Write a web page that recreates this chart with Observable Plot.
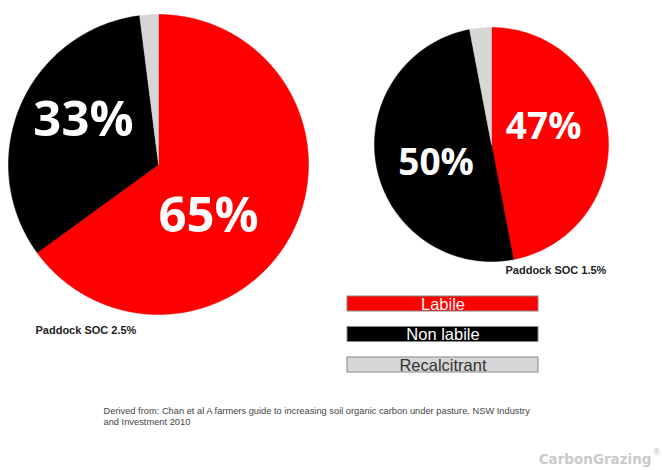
<!DOCTYPE html>
<html>
<head>
<meta charset="utf-8">
<script src="https://cdn.jsdelivr.net/npm/d3@7"></script>
<script src="https://cdn.jsdelivr.net/npm/@observablehq/plot@0.6"></script>
<style>
  html, body { margin: 0; padding: 0; background: #fff; }
  #chart svg { display: block; }
</style>
</head>
<body>
<div id="chart"></div>
<script>
// ---- data ----
const categories = ["Labile", "Non labile", "Recalcitrant"];
const soc25 = [65, 33, 2];   // Paddock SOC 2.5%
const soc15 = [47, 50, 3];   // Paddock SOC 1.5%
const pieTitles = ["Paddock SOC 2.5%", "Paddock SOC 1.5%"];
const captionLines = [
  "Derived from: Chan et al A farmers guide to increasing soil organic carbon under pasture. NSW Industry",
  "and Investment 2010"
];
const brand = "CarbonGrazing";

// ---- layout / style ----
const W = 662, H = 470;
const colors = ["#ff0000", "#000000", "#d6d6d6"];
const legendText = ["#fff4f4", "#ffffff", "#333333"];
const pies = [
  {values: soc25, cx: 158, cy: 164, r: 150, font: 49, title: pieTitles[0], tx: 35, ty: 330,
   lab: [[19, 0.48], [7, 0.58], null]},
  {values: soc15, cx: 491, cy: 144, r: 117, font: 37, title: pieTitles[1], tx: 505, ty: 270,
   lab: [[-13, 0.47], [-8, 0.5], null]}
];

const pie = d3.pie().sort(null).value(d => d);
const polys = [], labels = [], titles = [];
pies.forEach((p, pi) => {
  pie(p.values).forEach((a, i) => {
    const key = pi + "-" + i;
    const steps = Math.max(2, Math.ceil((a.endAngle - a.startAngle) / 0.01));
    polys.push({k: key, c: i, x: p.cx, y: p.cy});
    for (let s = 0; s <= steps; s++) {
      const t = a.startAngle + (a.endAngle - a.startAngle) * s / steps;
      polys.push({k: key, c: i, x: p.cx + p.r * Math.sin(t), y: p.cy - p.r * Math.cos(t)});
    }
    polys.push({k: key, c: i, x: p.cx, y: p.cy});
    if (p.lab[i]) {
      const mid = (a.startAngle + a.endAngle) / 2 + p.lab[i][0] * Math.PI / 180;
      const rr = p.r * p.lab[i][1];
      labels.push({x: p.cx + rr * Math.sin(mid), y: p.cy - rr * Math.cos(mid), t: a.data + "%", f: p.font});
    }
  });
  titles.push({x: p.tx, y: p.ty, t: p.title});
});

const legend = categories.map((c, i) => ({c, i, x1: 347, x2: 538, y1: 296 + i * 30.5, y2: 311 + i * 30.5}));

const chart = Plot.plot({
  width: W, height: H,
  margin: 0,
  x: {domain: [0, W], range: [0, W], axis: null},
  y: {domain: [0, H], range: [0, H], axis: null},
  style: {background: "#fff", overflow: "visible"},
  marks: [
    Plot.line(polys, {x: "x", y: "y", z: "k", fill: d => colors[d.c], stroke: d => colors[d.c], strokeWidth: 0.5, curve: "linear"}),
    ...labels.map(l => Plot.text([l], {x: "x", y: "y", text: "t", fill: "#fff", fontSize: l.f, fontWeight: 700,
      fontFamily: "'Open Sans', sans-serif", textAnchor: "middle"})),
    Plot.text(titles, {x: "x", y: "y", text: "t", fill: "#222", fontSize: 11, fontWeight: 700,
      fontFamily: "'Liberation Sans', Arial, sans-serif", textAnchor: "start"}),
    Plot.rect(legend, {x1: "x1", x2: "x2", y1: "y1", y2: "y2", fill: d => colors[d.i], stroke: "#888", strokeWidth: 1}),
    Plot.text(legend, {x: d => (d.x1 + d.x2) / 2, y: d => (d.y1 + d.y2) / 2 + 0.5, text: "c", fill: d => legendText[d.i],
      fontSize: 16.5, fontFamily: "'Liberation Sans', Arial, sans-serif", textAnchor: "middle"}),
    Plot.text(captionLines.map((t, i) => ({t, i})), {x: 103, y: d => 411 + d.i * 11, text: "t", fill: "#444",
      fontSize: 9.3, fontFamily: "'Liberation Sans', Arial, sans-serif", textAnchor: "start"}),
    Plot.text([brand], {x: 651, y: 459, text: d => d, fill: "#cacaca", fontSize: 13.5, fontWeight: 700,
      fontFamily: "'DejaVu Sans', sans-serif", textAnchor: "end"}),
    Plot.text(["®"], {x: 656, y: 452, text: d => d, fill: "#c4c4c4", fontSize: 8, textAnchor: "middle"})
  ]
});
document.getElementById("chart").appendChild(chart);
</script>
</body>
</html>
